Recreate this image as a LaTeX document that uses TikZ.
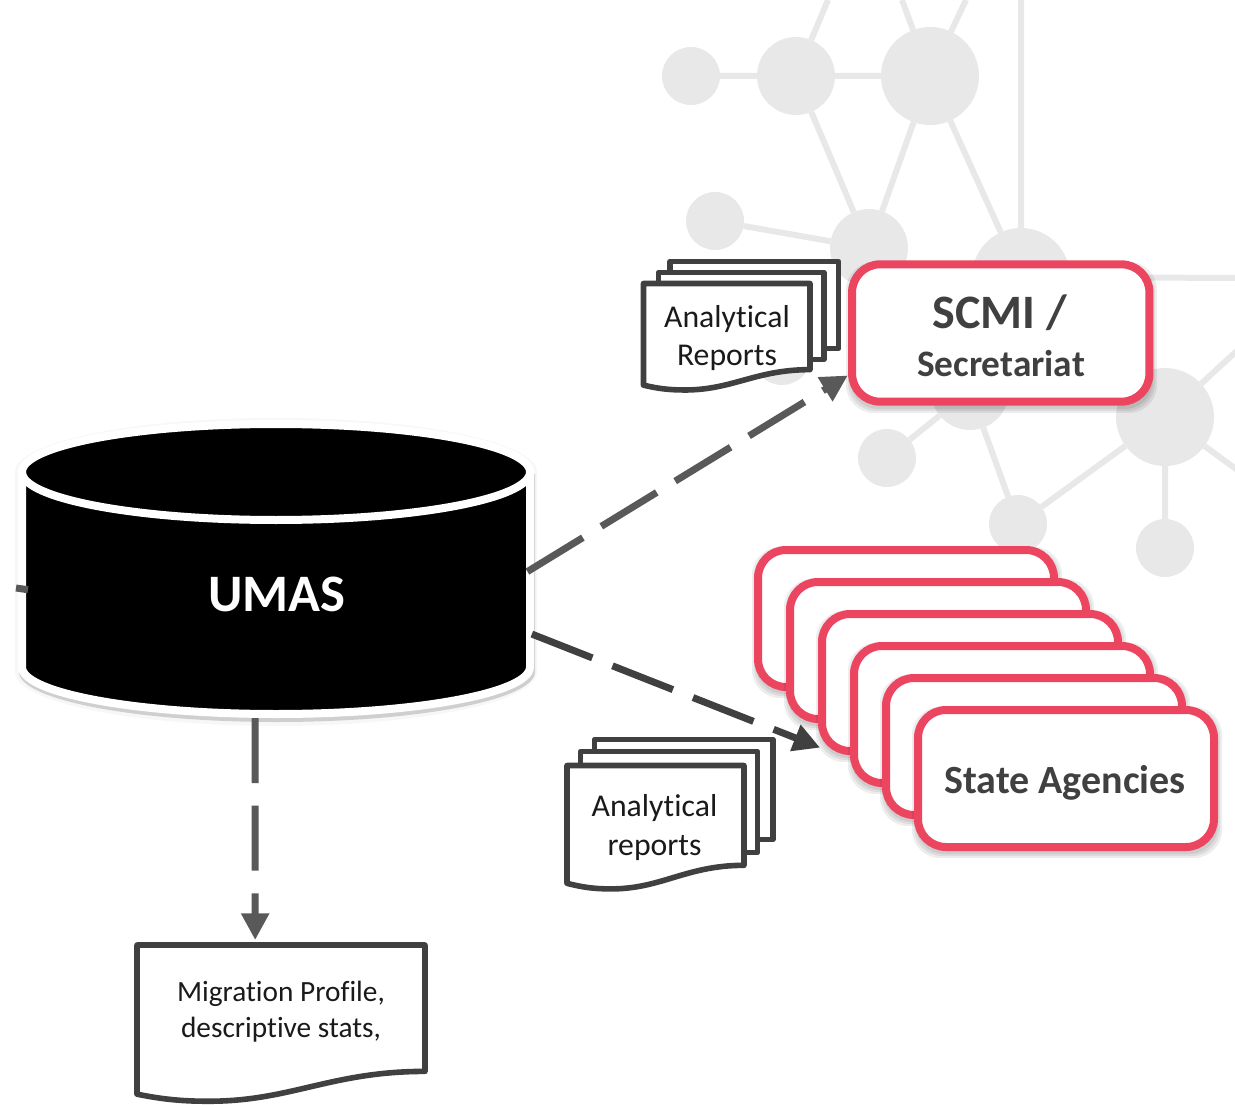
\documentclass[tikz,border=0pt]{standalone}
\usepackage{fontspec}
\setmainfont{Carlito}[Ligatures=CommonOff]
\usetikzlibrary{arrows.meta}
\definecolor{netgray}{HTML}{E8E8E8}
\definecolor{redline}{HTML}{EC4560}
\definecolor{ink}{HTML}{404040}
\definecolor{flow}{HTML}{595959}
\definecolor{doctext}{HTML}{1A1A1A}
\tikzset{
  net/.style={circle,fill=netgray,inner sep=0pt,outer sep=0pt},
  netS/.style={net,minimum size=43.5pt},
  netM/.style={net,minimum size=58.5pt},
  netL/.style={net,minimum size=73.5pt},
  netedge/.style={draw=netgray,line width=4.5pt},
  redbox/.style={rectangle,draw=redline,fill=white,line width=6pt,rounded corners=21pt,
    inner sep=0pt,outer sep=0pt},
  card/.style={redbox,minimum width=222pt,minimum height=102.75pt},
  docline/.style={draw=ink,fill=white,line width=4.2pt,line join=round},
  flowline/.style={line width=5.25pt,dash pattern=on 48.75pt off 16.2pt},
  flowtip/.style={-{Triangle[length=20pt,width=20pt]}},
  shadowlayer/.style={fill=black,opacity=.07},
  doctxt/.style={font=\fontsize{23.8}{28.8}\selectfont,text=doctext,align=center,inner sep=0pt},
}
% #1 left, #2 top, #3 width, #4 height
\newcommand{\wavedoc}[4]{%
  \begin{scope}[shift={(#1,#2)},xscale=#3,yscale=#4]
    \path[docline] (0,0) -- (1,0) -- (1,.805)
      .. controls (.67,.805) and (.53,1.0) .. (.24,.995)
      .. controls (.15,.995) and (.08,.98) .. (0,.95) -- cycle;
  \end{scope}}
% #1 x1, #2 y1, #3 x2, #4 y2, #5 radius
\newcommand{\softshadow}[5]{%
  \foreach \s in {7,5,3}{
    \path[shadowlayer,rounded corners=#5]
      (#1+1-\s,#2+4-\s) rectangle (#3+1+\s,#4+4+\s);
  }}
\begin{document}
\begin{tikzpicture}[x=.75pt,y=-.75pt]
\useasboundingbox (0,0) rectangle (1235,1105);
\clip (0,0) rectangle (1235,1105);
% background network
\node[netS] (na) at (691,76) {};
\node[netM] (nb) at (796,76) {};
\node[netL] (nc) at (930,76) {};
\node[netS] (nd) at (715,221) {};
\node[netM] (ne) at (869,248) {};
\node[netL] (nf) at (1021,277) {};
\node[netS] (nm) at (782,356) {};
\node[netM] (ng) at (970,391) {};
\node[netS] (nh) at (887,458) {};
\node[netL] (ni) at (1165,417) {};
\node[netS] (nj) at (1018,524) {};
\node[netS] (nk) at (1165,548) {};
\coordinate (fb) at (828,0);
\coordinate (fcl) at (902,0);
\coordinate (fcr) at (966,0);
\coordinate (ff) at (1021,0);
\coordinate (ffr) at (1240,278);
\coordinate (fiu) at (1240,348);
\coordinate (fil) at (1240,472);
\path[netedge] (na)--(nb) (nb)--(nc) (nb)--(ne) (nc)--(ne) (nc)--(nf) (nd)--(ne)
  (nb)--(fb) (nc)--(fcl) (nc)--(fcr) (nf)--(ff) (nf)--(ffr)
  (ng)--(nh) (ng)--(nj) (ni)--(nj) (ni)--(nk) (ni)--(fiu) (ni)--(fil);
% cylinder
\path[fill=black,opacity=.03] (15,472) arc[x radius=261,y radius=54,start angle=180,end angle=360] -- (537,672) arc[x radius=261,y radius=54,start angle=0,end angle=180] -- cycle;
\path[fill=black,opacity=.16] (19,474) -- (19,672) arc[x radius=258,y radius=50,start angle=180,end angle=0] -- (535,474) -- cycle;
\path[fill=black,draw=white,line width=6pt,line join=round]
  (22,472) arc[x radius=254,y radius=48,start angle=180,end angle=360]
  -- (530,667) arc[x radius=254,y radius=47,start angle=0,end angle=180] -- cycle;
\path[draw=white,line width=6pt]
  (22,472) arc[x radius=254,y radius=48,start angle=180,end angle=0];
\node[rectangle,minimum width=381pt,minimum height=222pt,inner sep=0pt,outer sep=0pt] (umas) at (276,570) {};
\node[inner sep=0pt,text=white,font=\fontsize{39.5}{44}\bfseries\selectfont] (umaslabel) at (277,594) {UMAS};
% SCMI
\softshadow{852}{265}{1149}{402}{21pt}
\node[redbox,minimum width=223pt,minimum height=103pt] (scmi) at (1000.75,333) {};
\node[inner sep=0pt,text=ink,font=\fontsize{36}{40}\bfseries\selectfont] (scmilabel) at (1000,313) {SCMI /};
\node[inner sep=0pt,text=ink,font=\fontsize{28}{30}\bfseries\selectfont] (seclabel) at (1001,364) {Secretariat};
% state agency cards
\softshadow{758}{550}{1054}{687}{21pt}
\node[card] (s0) at (906,618.5) {};
\softshadow{790}{582}{1086}{719}{21pt}
\node[card] (s1) at (938,650.5) {};
\softshadow{822}{614}{1118}{751}{21pt}
\node[card] (s2) at (970,682.5) {};
\softshadow{854}{646}{1150}{783}{21pt}
\node[card] (s3) at (1002,714.5) {};
\softshadow{886}{678}{1182}{815}{21pt}
\node[card] (s4) at (1034,746.5) {};
\softshadow{918}{710}{1214}{847}{21pt}
\node[card] (s5) at (1066,778.5) {};
\node[inner sep=0pt,text=ink,font=\fontsize{30}{34}\bfseries\selectfont] (s5label) at (1065,783) {State Agencies};
% upper document stack
\path[docline] (670,261.5) rectangle (838.5,348.5);
\path[docline] (658.5,272.5) rectangle (824,359.5);
\wavedoc{643.5}{283.5}{166.5}{107}
\node[doctxt] (rep1) at (727,338) {Analytical\\Reports};
% lower document stack
\path[docline] (594.5,739.5) rectangle (773,839.5);
\path[docline] (580.5,751.5) rectangle (757.5,852.5);
\wavedoc{567}{765.5}{177}{124}
\node[doctxt] (rep2) at (654.5,827.5) {Analytical\\reports};
% migration profile document
\wavedoc{137}{945}{288}{157}
\node[rectangle,minimum width=216pt,minimum height=112.5pt,inner sep=0pt,outer sep=0pt] (mp) at (281,1020) {};
\node[doctxt,font=\fontsize{22}{27}\selectfont] (mplabel) at (281,1012) {Migration Profile,\\descriptive stats,};
% connectors
\draw[flowline,flowtip,draw=flow,shorten <=-2.25pt,shorten >=3.75pt] (umas.east) -- (scmi.195.77);
\draw[flowline,flowtip,draw=ink,shorten <=1.5pt,shorten >=1.5pt] (umas.-14.8) -- (s2.204.5);
\draw[flowline,flowtip,draw=flow,dash pattern=on 48.75pt off 17pt,shorten >=3.75pt] (umas.-98.08) -- (mp.109.1);
\coordinate (stub) at (16,588);
\draw[line width=5.25pt,draw=flow] (stub) -- ([xshift=4.5pt,yshift=-1.5pt]umas.184.5);
\end{tikzpicture}
\end{document}
